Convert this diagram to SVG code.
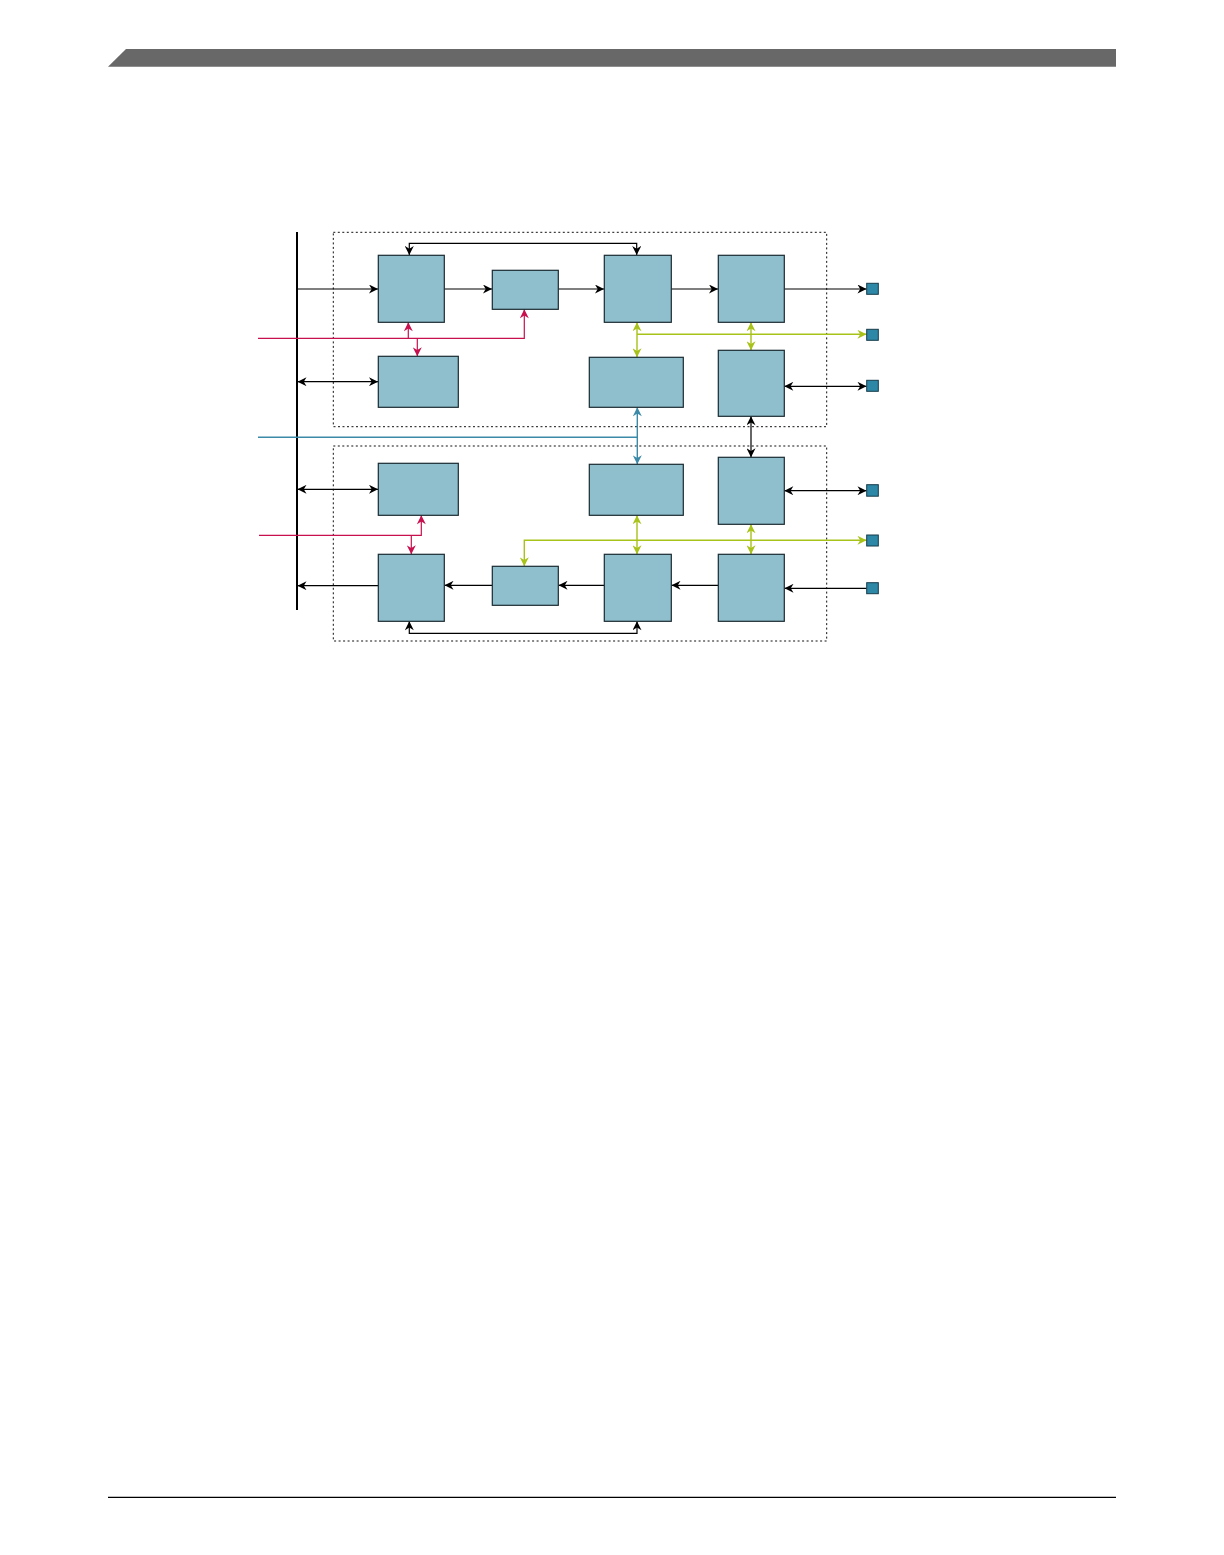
<svg xmlns="http://www.w3.org/2000/svg" width="1224" height="1555" viewBox="0 0 1224 1555">
<defs>
<style>
.blk{fill:#8fbfcc;stroke:#1a2a30;stroke-width:1.2}
.port{fill:#2d87a7;stroke:#163c4a;stroke-width:1}
.frame{fill:none;stroke:#111;stroke-width:1;stroke-dasharray:2,2.5}
.k{fill:none;stroke:#000;stroke-width:1.2}
.r{fill:none;stroke:#c8104e;stroke-width:1.2}
.g{fill:none;stroke:#a8c21a;stroke-width:1.4}
.b{fill:none;stroke:#3a8aa8;stroke-width:1.4}
</style>
<marker id="ak" viewBox="0 0 10 10" refX="10" refY="5" markerWidth="10" markerHeight="9" orient="auto-start-reverse" markerUnits="userSpaceOnUse"><path d="M0,0 L10,5 L0,10 L3,5 z" fill="#000"/></marker>
<marker id="ar" viewBox="0 0 10 10" refX="10" refY="5" markerWidth="10" markerHeight="9" orient="auto-start-reverse" markerUnits="userSpaceOnUse"><path d="M0,0 L10,5 L0,10 L3,5 z" fill="#c8104e"/></marker>
<marker id="ag" viewBox="0 0 10 10" refX="10" refY="5" markerWidth="10" markerHeight="9" orient="auto-start-reverse" markerUnits="userSpaceOnUse"><path d="M0,0 L10,5 L0,10 L3,5 z" fill="#a8c21a"/></marker>
<marker id="ab" viewBox="0 0 10 10" refX="10" refY="5" markerWidth="10" markerHeight="9" orient="auto-start-reverse" markerUnits="userSpaceOnUse"><path d="M0,0 L10,5 L0,10 L3,5 z" fill="#3a8aa8"/></marker>
</defs>
<rect width="1224" height="1555" fill="#fff"/>
<g id="header"><polygon points="126,49 1116,49 1116,66.7 108,66.7" fill="#686868"/></g>
<g id="footer"><line x1="108" y1="1497.3" x2="1116" y2="1497.3" stroke="#000" stroke-width="1.3"/></g>
<g id="frames">
<rect class="frame" x="333.3" y="232.3" width="493.4" height="194.4"/>
<rect class="frame" x="333.3" y="446" width="493.4" height="195"/>
</g>
<g id="bus"><line x1="297" y1="232" x2="297" y2="610" stroke="#000" stroke-width="2"/></g>
<g id="connectors">
<line class="k" x1="297" y1="289" x2="378" y2="289" marker-end="url(#ak)"/>
<line class="k" x1="444.3" y1="289" x2="492" y2="289" marker-end="url(#ak)"/>
<line class="k" x1="558.3" y1="289" x2="604" y2="289" marker-end="url(#ak)"/>
<line class="k" x1="671.3" y1="289" x2="718" y2="289" marker-end="url(#ak)"/>
<line class="k" x1="784.3" y1="289" x2="866.5" y2="289" marker-end="url(#ak)"/>
<path class="k" d="M409.3,255 V243.3 H636.7 V255" marker-start="url(#ak)" marker-end="url(#ak)"/>
<line class="k" x1="297.5" y1="381.7" x2="378" y2="381.7" marker-start="url(#ak)" marker-end="url(#ak)"/>
<line class="k" x1="784.3" y1="386.3" x2="866.5" y2="386.3" marker-start="url(#ak)" marker-end="url(#ak)"/>
<line class="k" x1="751" y1="416.3" x2="751" y2="457.3" marker-start="url(#ak)" marker-end="url(#ak)"/>
<path class="r" d="M258,338.3 H524.3 V309.3" marker-end="url(#ar)"/>
<line class="r" x1="408.3" y1="338.3" x2="408.3" y2="322.3" marker-end="url(#ar)"/>
<line class="r" x1="417.3" y1="338.3" x2="417.3" y2="356.3" marker-end="url(#ar)"/>
<line class="g" x1="637" y1="322.3" x2="637" y2="357.3" marker-start="url(#ag)" marker-end="url(#ag)"/>
<line class="g" x1="637" y1="334.3" x2="866.5" y2="334.3" marker-end="url(#ag)"/>
<line class="g" x1="751" y1="322.3" x2="751" y2="350.3" marker-start="url(#ag)" marker-end="url(#ag)"/>
<path class="b" d="M258,437.3 H637.3"/>
<line class="b" x1="637.3" y1="407.3" x2="637.3" y2="464.3" marker-start="url(#ab)" marker-end="url(#ab)"/>
<line class="k" x1="297.5" y1="489.3" x2="378" y2="489.3" marker-start="url(#ak)" marker-end="url(#ak)"/>
<line class="k" x1="784.3" y1="490.7" x2="866.5" y2="490.7" marker-start="url(#ak)" marker-end="url(#ak)"/>
<line class="k" x1="378.3" y1="585.7" x2="297.5" y2="585.7" marker-end="url(#ak)"/>
<line class="k" x1="492.3" y1="585.3" x2="444.5" y2="585.3" marker-end="url(#ak)"/>
<line class="k" x1="604.3" y1="585.3" x2="558.5" y2="585.3" marker-end="url(#ak)"/>
<line class="k" x1="718.3" y1="585.3" x2="671.5" y2="585.3" marker-end="url(#ak)"/>
<line class="k" x1="866.7" y1="588.3" x2="784.5" y2="588.3" marker-end="url(#ak)"/>
<path class="k" d="M409.3,621.3 V633.3 H637 V621.3" marker-start="url(#ak)" marker-end="url(#ak)"/>
<path class="r" d="M259,535.3 H421.3 V515.3" marker-end="url(#ar)"/>
<line class="r" x1="411.3" y1="535.3" x2="411.3" y2="554.3" marker-end="url(#ar)"/>
<path class="g" d="M866.5,540.3 H524.3 V566.3" marker-start="url(#ag)" marker-end="url(#ag)"/>
<line class="g" x1="637" y1="515.3" x2="637" y2="554.3" marker-start="url(#ag)" marker-end="url(#ag)"/>
<line class="g" x1="751" y1="524.3" x2="751" y2="554.3" marker-start="url(#ag)" marker-end="url(#ag)"/>
</g>
<g id="nodeA"><rect class="blk" x="378.3" y="255.3" width="66" height="67"/></g>
<g id="nodeB"><rect class="blk" x="492.3" y="270.3" width="66" height="39"/></g>
<g id="nodeC"><rect class="blk" x="378.3" y="356.3" width="80" height="51"/></g>
<g id="nodeD"><rect class="blk" x="604.3" y="255.3" width="67" height="67"/></g>
<g id="nodeE"><rect class="blk" x="718.3" y="255.3" width="66" height="67"/></g>
<g id="nodeF"><rect class="blk" x="589.3" y="357.3" width="94" height="50"/></g>
<g id="nodeG"><rect class="blk" x="718.3" y="350.3" width="66" height="66"/></g>
<g id="nodeH"><rect class="blk" x="718.3" y="457.3" width="66" height="67"/></g>
<g id="nodeI"><rect class="blk" x="589.3" y="464.3" width="94" height="51"/></g>
<g id="nodeJ"><rect class="blk" x="378.3" y="463.3" width="80" height="52"/></g>
<g id="nodeK"><rect class="blk" x="378.3" y="554.3" width="66" height="67"/></g>
<g id="nodeL"><rect class="blk" x="492.3" y="566.3" width="66" height="39"/></g>
<g id="nodeM"><rect class="blk" x="604.3" y="554.3" width="67" height="67"/></g>
<g id="nodeN"><rect class="blk" x="718.3" y="554.3" width="66" height="67"/></g>
<g id="port1"><rect class="port" x="866.7" y="283.3" width="11.6" height="11"/></g>
<g id="port2"><rect class="port" x="866.7" y="329.3" width="11.6" height="11"/></g>
<g id="port3"><rect class="port" x="866.7" y="380.3" width="11.6" height="11"/></g>
<g id="port4"><rect class="port" x="866.7" y="484.7" width="11.6" height="11.5"/></g>
<g id="port5"><rect class="port" x="866.7" y="535" width="11.6" height="11"/></g>
<g id="port6"><rect class="port" x="866.7" y="582.7" width="11.6" height="11"/></g>
</svg>
